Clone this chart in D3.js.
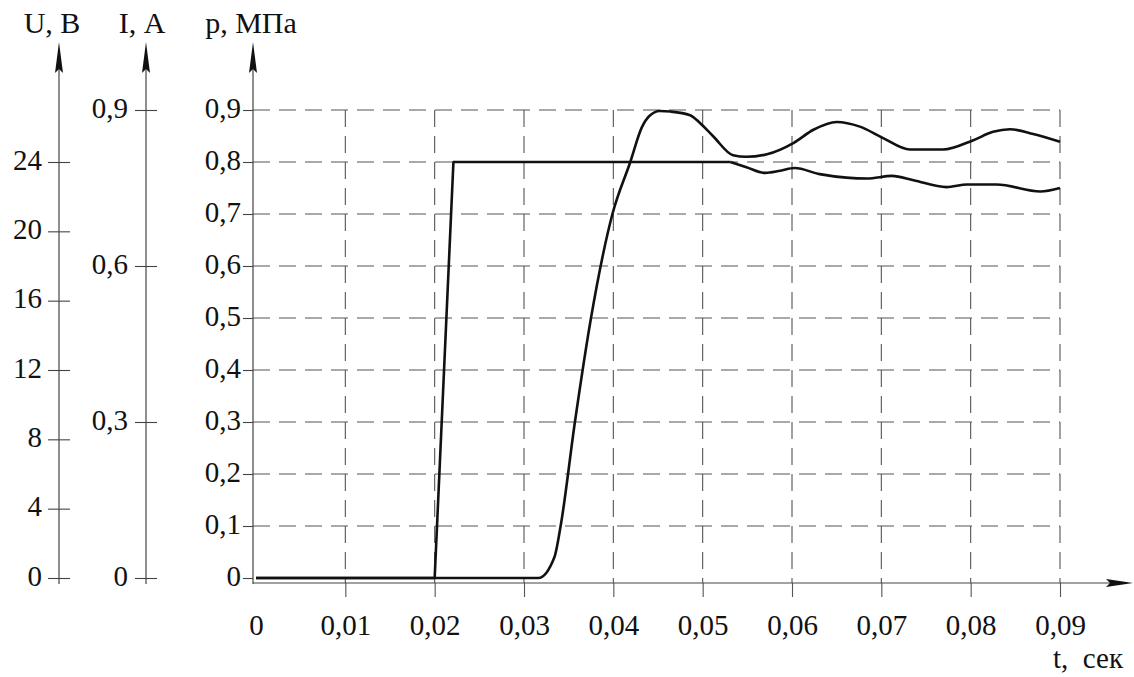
<!DOCTYPE html>
<html>
<head>
<meta charset="utf-8">
<script src="https://cdn.jsdelivr.net/npm/d3@7"></script>
<style>
  body { margin: 0; background: #fff; }
  svg { display: block; font-family: "Liberation Serif", "Times New Roman", serif; }
  text { font-family: "Liberation Serif", "Times New Roman", serif; font-size: 29px; fill: #111; }
  text.title { font-size: 30px; }
</style>
</head>
<body>
<div id="chart"></div>
<script>
/* ---------- data ---------- */
var tTicks = [0, 0.01, 0.02, 0.03, 0.04, 0.05, 0.06, 0.07, 0.08, 0.09];
var uTicks = [0, 4, 8, 12, 16, 20, 24];
var iTicks = [0, 0.3, 0.6, 0.9];
var pTicks = [0, 0.1, 0.2, 0.3, 0.4, 0.5, 0.6, 0.7, 0.8, 0.9];

// voltage step (U, V) - linear part up to index uSmoothFrom, smooth after
var uTime = [0, 0.0200, 0.0221, 0.0531, 0.0549, 0.0570, 0.0587, 0.0603, 0.0631, 0.0661,
             0.0684, 0.0712, 0.0736, 0.0773, 0.0796, 0.0829, 0.0878, 0.0900];
var uVolt = [0, 0, 24, 24, 23.7, 23.37, 23.5, 23.65, 23.3, 23.1,
             23.05, 23.2, 22.95, 22.55, 22.7, 22.7, 22.3, 22.5];
var uSmoothFrom = 3;

// pressure (p, MPa)
var pTime = [0, 0.0316, 0.0334, 0.0341, 0.0357, 0.0375, 0.0399, 0.0419, 0.0432,
             0.0440, 0.0452, 0.0464, 0.0486, 0.0497, 0.0512,
             0.0534, 0.0549, 0.0572, 0.0602, 0.0624, 0.0650, 0.0676, 0.0702, 0.0732,
             0.0769, 0.0803, 0.0825, 0.0844, 0.0870, 0.0900];
var pVal  = [0, 0, 0.04, 0.1, 0.3, 0.5, 0.7, 0.8, 0.867,
             0.888, 0.898, 0.897, 0.890, 0.875, 0.849,
             0.813, 0.810, 0.815, 0.837, 0.862, 0.877, 0.868, 0.846, 0.824,
             0.824, 0.842, 0.858, 0.863, 0.854, 0.839];

/* ---------- setup ---------- */
var width = 1134, height = 677;
var axisColor = "#444", gridColor = "#555";

var svg = d3.select("#chart").append("svg")
    .attr("width", width)
    .attr("height", height);

var xScale = d3.scaleLinear().domain([0, 0.09]).range([256, 1060]);
var pScale = d3.scaleLinear().domain([0, 1]).range([578, 58]);
var uScale = d3.scaleLinear().domain([0, 30]).range([578, 58]);
var iScale = d3.scaleLinear().domain([0, 1]).range([578, 58]);

var ru = d3.formatLocale({decimal: ",", thousands: " ", grouping: [3], currency: ["", ""]});
function fmt(spec) {
    var f = ru.format(spec);
    return d => d === 0 ? "0" : f(d);
}

var xAxisY = pScale(0) + 5;
var axisTop = 42;
var uX = 59, iX = 146, pX = 253;

/* ---------- grid ---------- */
var grid = svg.append("g");
grid.selectAll("line.h")
    .data(pTicks.slice(1))
    .enter().append("line")
    .attr("x1", pX).attr("x2", xScale(0.09))
    .attr("y1", d => pScale(d)).attr("y2", d => pScale(d))
    .attr("stroke", gridColor).attr("stroke-width", 1.1)
    .attr("stroke-dasharray", "17,9");
grid.selectAll("line.v")
    .data(tTicks.slice(1))
    .enter().append("line")
    .attr("x1", d => xScale(d)).attr("x2", d => xScale(d))
    .attr("y1", pScale(0.9)).attr("y2", xAxisY)
    .attr("stroke", gridColor).attr("stroke-width", 1.1)
    .attr("stroke-dasharray", "17,9");

/* ---------- arrows ---------- */
function arrowUp(x) {
    svg.append("path")
        .attr("d", `M${x},${axisTop} L${x + 4},${axisTop + 31} L${x},${axisTop + 27} L${x - 4},${axisTop + 31} Z`)
        .attr("fill", "#111");
}

/* ---------- left axes ---------- */
function leftAxis(x, scale, ticks, format, labelGap, crossing) {
    var g = svg.append("g").attr("transform", `translate(${x},0)`);
    g.call(d3.axisLeft(scale).tickValues(ticks).tickFormat(format).tickSize(crossing ? 11 : 10));
    g.attr("font-family", null).attr("font-size", null);
    g.select(".domain").remove();
    g.selectAll(".tick line")
        .attr("x1", crossing ? 11 : 0)
        .attr("stroke", axisColor).attr("stroke-width", 1.1);
    g.selectAll(".tick text")
        .attr("x", -labelGap).attr("dy", "0.25em");
    svg.append("line")
        .attr("x1", x).attr("x2", x)
        .attr("y1", axisTop + 20).attr("y2", xAxisY + 1)
        .attr("stroke", axisColor).attr("stroke-width", 1.2);
    arrowUp(x);
    return g;
}

leftAxis(uX, uScale, uTicks, d => d, 17, true);
leftAxis(iX, iScale, iTicks, fmt(".1f"), 18, true);
leftAxis(pX, pScale, pTicks, fmt(".1f"), 12, false);

/* ---------- t axis ---------- */
var xg = svg.append("g").attr("transform", `translate(0,${xAxisY})`);
xg.call(d3.axisBottom(xScale).tickValues(tTicks).tickFormat(fmt(".2f")).tickSize(14));
xg.attr("font-family", null).attr("font-size", null);
xg.select(".domain").remove();
xg.selectAll(".tick line").attr("stroke", gridColor).attr("stroke-width", 1.1);
xg.selectAll(".tick")
    .filter(d => d === 0)
    .select("line").remove();
xg.selectAll(".tick text")
    .attr("y", 52).attr("dy", null);

svg.append("line")
    .attr("x1", pX).attr("x2", 1112)
    .attr("y1", xAxisY).attr("y2", xAxisY)
    .attr("stroke", axisColor).attr("stroke-width", 1.2);
svg.append("path")
    .attr("d", `M1133,${xAxisY} L1106,${xAxisY - 4} L1110,${xAxisY} L1106,${xAxisY + 4} Z`)
    .attr("fill", "#111");

/* ---------- titles ---------- */
var titles = [
    {text: "U, В", x: 52},
    {text: "I, А", x: 142},
    {text: "p, МПа", x: 251}
];
svg.selectAll("text.title")
    .data(titles)
    .enter().append("text")
    .attr("class", "title")
    .attr("x", d => d.x).attr("y", 33)
    .attr("text-anchor", "middle")
    .text(d => d.text);

svg.append("text")
    .attr("x", 1123).attr("y", 668)
    .attr("text-anchor", "end")
    .style("white-space", "pre")
    .text("t,  сек");

/* ---------- curves ---------- */
var uPoints = uTime.map((t, i) => [t, uVolt[i]]);
var pPoints = pTime.map((t, i) => [t, pVal[i]]);

var lineLinear = d3.line().x(d => xScale(d[0])).y(d => uScale(d[1]));
var lineSmooth = d3.line().x(d => xScale(d[0])).y(d => uScale(d[1])).curve(d3.curveMonotoneX);
var lineP = d3.line().x(d => xScale(d[0])).y(d => pScale(d[1])).curve(d3.curveMonotoneX);

var curves = svg.append("g")
    .attr("fill", "none").attr("stroke", "#111")
    .attr("stroke-width", 2.6).attr("stroke-linejoin", "round");

curves.append("path").attr("d", lineP(pPoints));
curves.append("path").attr("d", lineLinear(uPoints.slice(0, uSmoothFrom + 1)));
curves.append("path").attr("d", lineSmooth(uPoints.slice(uSmoothFrom)));
</script>
</body>
</html>
